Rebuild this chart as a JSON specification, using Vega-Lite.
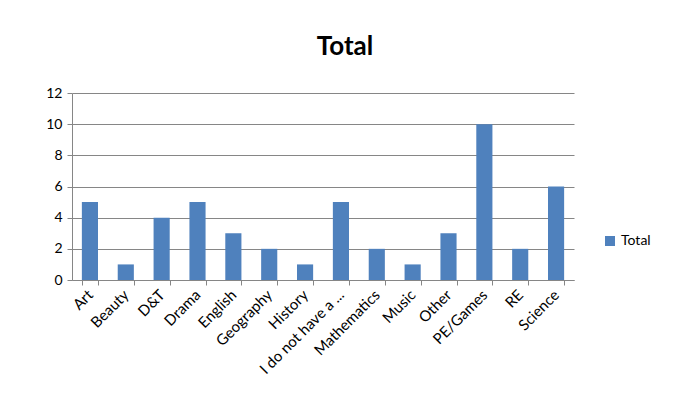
{
  "$schema": "https://vega.github.io/schema/vega-lite/v6.json",
  "width": 502,
  "height": 187,
  "autosize": "none",
  "padding": {"left": 72, "top": 93, "right": 110, "bottom": 133},
  "background": "white",
  "title": {"text": "Total", "fontSize": 26, "fontWeight": "bold", "font": "Lato", "color": "#000000", "anchor": "middle", "dx": 22, "offset": 26},
  "data": {"values": [
    {"subject": "Art", "count": 5, "series": "Total"},
    {"subject": "Beauty", "count": 1, "series": "Total"},
    {"subject": "D&T", "count": 4, "series": "Total"},
    {"subject": "Drama", "count": 5, "series": "Total"},
    {"subject": "English", "count": 3, "series": "Total"},
    {"subject": "Geography", "count": 2, "series": "Total"},
    {"subject": "History", "count": 1, "series": "Total"},
    {"subject": "I do not have a ...", "count": 5, "series": "Total"},
    {"subject": "Mathematics", "count": 2, "series": "Total"},
    {"subject": "Music", "count": 1, "series": "Total"},
    {"subject": "Other", "count": 3, "series": "Total"},
    {"subject": "PE/Games", "count": 10, "series": "Total"},
    {"subject": "RE", "count": 2, "series": "Total"},
    {"subject": "Science", "count": 6, "series": "Total"}
  ]},
  "mark": {"type": "bar"},
  "encoding": {
    "x": {"field": "subject", "type": "nominal", "sort": null, "title": null,
      "scale": {"paddingInner": 0.55, "paddingOuter": 0.275},
      "axis": {"labelAngle": -45, "labelAlign": "right", "labelBaseline": "middle", "tickBand": "extent", "labelPadding": 7,
        "labelFont": "Lato", "labelFontSize": 15, "labelColor": "#000000", "domainColor": "#868686", "tickColor": "#868686", "tickSize": 5, "labelLimit": 200}},
    "y": {"field": "count", "type": "quantitative", "title": null,
      "scale": {"domain": [0, 12]},
      "axis": {"values": [0, 2, 4, 6, 8, 10, 12], "labelFont": "Lato", "labelFontSize": 14, "labelColor": "#000000", "labelPadding": 5,
        "domainColor": "#868686", "tickColor": "#868686", "tickSize": 5, "gridColor": "#868686", "gridWidth": 1}},
    "color": {"field": "series", "type": "nominal", "title": null,
      "scale": {"range": ["#4F81BD"]},
      "legend": {"orient": "none", "legendX": 531, "legendY": 141, "symbolType": "square", "symbolSize": 100, "labelFont": "Lato", "labelFontSize": 14, "labelColor": "#000000", "symbolStrokeWidth": 0}}
  },
  "config": {"view": {"stroke": null}}
}
